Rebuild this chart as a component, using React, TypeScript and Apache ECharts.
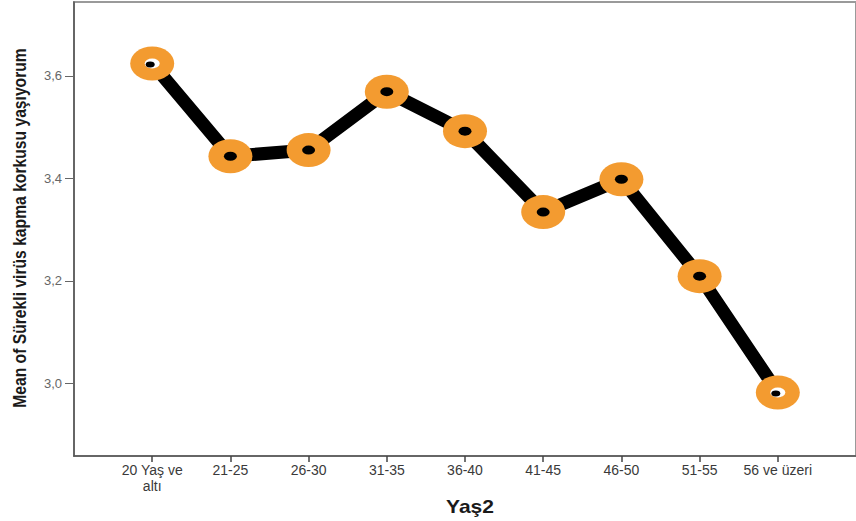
import React, { useEffect, useRef } from "react";
import * as echarts from "echarts";

const categories = [
  "20 Yaş ve\naltı",
  "21-25",
  "26-30",
  "31-35",
  "36-40",
  "41-45",
  "46-50",
  "51-55",
  "56 ve üzeri",
];
const means = [3.624, 3.443, 3.455, 3.569, 3.492, 3.334, 3.398, 3.209, 2.982];
const yTicks = [3.0, 3.2, 3.4, 3.6];
const hollowIdx = [0, 8];

const yTitle = "Mean of Sürekli virüs kapma korkusu yaşıyorum";
const xTitle = "Yaş2";

const ELLIPSE = "path://M0,-1A1,1,0,1,1,0,1A1,1,0,1,1,0,-1Z";

function measure(text: string, font: string): number {
  const c = document.createElement("canvas");
  const ctx = c.getContext("2d");
  if (!ctx) return 1;
  ctx.font = font;
  return ctx.measureText(text).width || 1;
}

export default function App() {
  const ref = useRef<HTMLDivElement>(null);
  useEffect(() => {
    if (!ref.current) return;
    const chart = echarts.init(ref.current, null, { renderer: "svg" });
    const pts = means.map((v, i) => [i, v]);
    const hollowPts = hollowIdx.map((i) => [i, means[i]]);
    const titleFont = "Liberation Sans, Arial, sans-serif";
    const yW = measure(yTitle, "bold 19px " + titleFont);
    const xW = measure(xTitle, "bold 18px " + titleFont);
    chart.setOption({
      animation: false,
      backgroundColor: "#ffffff",
      grid: {
        left: 74,
        top: 2,
        width: 791,
        height: 454,
        show: true,
        borderColor: "#9a9a9a",
        borderWidth: 2,
        backgroundColor: "transparent",
      },
      xAxis: {
        type: "value",
        min: -1,
        max: 9,
        splitLine: { show: false },
        axisLine: { show: true, onZero: false, lineStyle: { color: "#555", width: 1.5 } },
        axisTick: {
          show: true,
          length: 6,
          customValues: categories.map((_, i) => i),
          lineStyle: { color: "#444", width: 1.5 },
        },
        axisLabel: {
          customValues: categories.map((_, i) => i),
          formatter: (v: number) => categories[Math.round(v)] ?? "",
          fontFamily: "Liberation Sans, Arial, sans-serif",
          fontSize: 14,
          color: "#3a3a3a",
          lineHeight: 16,
          margin: 6,
        },
      },
      yAxis: {
        type: "value",
        min: 2.858,
        max: 3.744,
        splitLine: { show: false },
        axisLine: { show: true, onZero: false, lineStyle: { color: "#555", width: 1.5 } },
        axisTick: {
          show: true,
          length: 9,
          customValues: yTicks,
          lineStyle: { color: "#666", width: 1 },
        },
        axisLabel: {
          customValues: yTicks,
          formatter: (v: number) => v.toFixed(1).replace(".", ","),
          fontFamily: "Liberation Sans, Arial, sans-serif",
          fontSize: 13,
          color: "#666",
          margin: 12,
        },
      },
      graphic: [
        {
          type: "text",
          x: 19,
          y: 228,
          rotation: Math.PI / 2,
          scaleX: 360 / yW,
          style: {
            text: yTitle,
            fontFamily: titleFont,
            fontWeight: "bold",
            fontSize: 19,
            fill: "#1a1a1a",
            textAlign: "center",
            textVerticalAlign: "middle",
          },
        },
        {
          type: "text",
          x: 470,
          y: 507,
          scaleX: 48 / xW,
          style: {
            text: xTitle,
            fontFamily: titleFont,
            fontWeight: "bold",
            fontSize: 18,
            fill: "#1a1a1a",
            textAlign: "center",
            textVerticalAlign: "middle",
          },
        },
      ],
      series: [
        {
          type: "line",
          data: pts,
          showSymbol: false,
          lineStyle: { color: "#000", width: 13 },
          z: 2,
        },
        {
          type: "scatter",
          data: pts,
          symbol: ELLIPSE,
          symbolSize: [44, 34],
          itemStyle: { color: "#F39B30", opacity: 1 },
          z: 3,
        },
        {
          type: "scatter",
          data: pts,
          symbol: ELLIPSE,
          symbolSize: [13, 9],
          itemStyle: { color: "#000", opacity: 1 },
          z: 4,
        },
        {
          type: "scatter",
          data: hollowPts,
          symbol: ELLIPSE,
          symbolSize: [15, 10],
          itemStyle: { color: "#fff", opacity: 1 },
          z: 5,
        },
        {
          type: "scatter",
          data: hollowPts,
          symbol: ELLIPSE,
          symbolSize: [9, 6],
          symbolOffset: [-2, 1],
          itemStyle: { color: "#000", opacity: 1 },
          z: 6,
        },
      ],
    });
    return () => chart.dispose();
  }, []);
  return (
    <div
      ref={ref}
      style={{ position: "absolute", left: 0, top: 0, width: 856, height: 521 }}
    />
  );
}
